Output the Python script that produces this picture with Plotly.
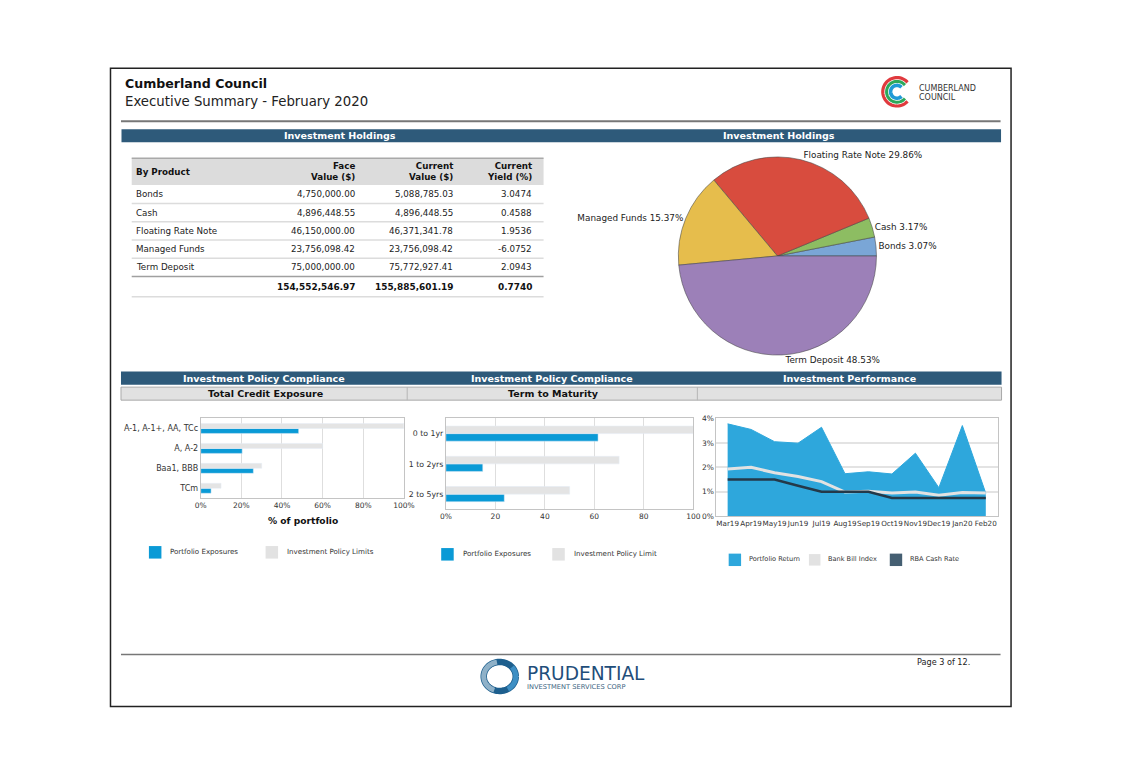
import numpy as np
import plotly.graph_objects as go

# the page body keeps its default 8px margin, so the figure is 16px smaller than the window
OFF = 8
W, H = 1121 - 2 * OFF, 774 - 2 * OFF
# measured screen mapping of this setup: screen = s*design + o  -> invert it
SX, OX = 0.984, 6.2
SY, OY = 0.987, 4.4
FS = 1.0 / 0.985  # font compensation


def X(p):
    q = (p - OX) / SX
    return (q - OFF) / W


def Y(p):
    q = (p - OY) / SY
    return 1 - (q - OFF) / H


FONT = "DejaVu Sans"

# ---------------- data ----------------
products = ["Bonds", "Cash", "Floating Rate Note", "Managed Funds", "Term Deposit"]
face_values = [4750000.00, 4896448.55, 46150000.00, 23756098.42, 75000000.00]
current_values = [5088785.03, 4896448.55, 46371341.78, 23756098.42, 75772927.41]
current_yields = [3.0474, 0.4588, 1.9536, -6.0752, 2.0943]
total_face = 154552546.97
total_current = 155885601.19
total_yield = 0.7740
table_headers = ["By Product", "Face<br>Value ($)", "Current<br>Value ($)", "Current<br>Yield (%)"]

pie_pct = [3.07, 3.17, 29.86, 15.37, 48.53]
pie_colors = ["#7aa6d6", "#8dbd62", "#d84c3e", "#e6bd4c", "#9c80b8"]

credit_cats = ["A-1, A-1+, AA, TCc", "A, A-2", "Baa1, BBB", "TCm"]
credit_exposure = [48.2, 20.4, 25.9, 5.1]
credit_limits = [100, 60, 30, 10]
credit_ticks = [0, 20, 40, 60, 80, 100]
credit_ticktext = ["0%", "20%", "40%", "60%", "80%", "100%"]

term_cats = ["0 to 1yr", "1 to 2yrs", "2 to 5yrs"]
term_exposure = [61.5, 14.9, 23.6]
term_limits = [100, 70, 50]
term_ticks = [0, 20, 40, 60, 80, 100]
term_ticktext = ["0%", "20", "40", "60", "80", "100"]

months = ["Mar19", "Apr19", "May19", "Jun19", "Jul19", "Aug19",
          "Sep19", "Oct19", "Nov19", "Dec19", "Jan20", "Feb20"]
portfolio_return = [3.78, 3.55, 3.05, 2.99, 3.64, 1.74, 1.82, 1.73, 2.58, 1.17, 3.71, 0.94]
bank_bill = [1.93, 2.00, 1.78, 1.63, 1.42, 0.99, 1.02, 0.95, 0.99, 0.86, 0.97, 0.95]
rba_cash = [1.50, 1.50, 1.50, 1.25, 1.00, 1.00, 1.00, 0.75, 0.75, 0.75, 0.75, 0.75]
perf_ticks = [0, 1, 2, 3, 4]
perf_ticktext = ["0%", "1%", "2%", "3%", "4%"]

BLUE = "#0a9ad6"
LGREY = "#e4e4e4"
NAVY = "#2e5a7a"

fig = go.Figure()

# ---------------- pie ----------------
# plotly ends the first counterclockwise slice at `rotation`; start Bonds at 3 o'clock instead
pie_rotation = 90 - 360 * pie_pct[0] / sum(pie_pct)
fig.add_trace(go.Pie(
    labels=products, values=pie_pct, sort=False, direction="counterclockwise",
    rotation=pie_rotation,
    marker=dict(colors=pie_colors, line=dict(color="rgba(70,70,70,0.55)", width=1)),
    texttemplate="%{label} %{value:.2f}%", textposition="outside",
    outsidetextfont=dict(family=FONT, size=8.7 * FS, color="#222"),
    domain=dict(x=[X(678), X(876)], y=[Y(355), Y(157)]), hoverinfo="skip",
))

# ---------------- credit exposure ----------------
fig.add_trace(go.Bar(y=credit_cats, x=credit_exposure, orientation="h", marker_color=BLUE,
                     name="Portfolio Exposures", xaxis="x", yaxis="y"))
fig.add_trace(go.Bar(y=credit_cats, x=credit_limits, orientation="h", marker_color=LGREY,
                     name="Investment Policy Limits", xaxis="x", yaxis="y"))

# ---------------- term to maturity ----------------
fig.add_trace(go.Bar(y=term_cats, x=term_exposure, orientation="h", marker_color=BLUE,
                     name="Portfolio Exposures", xaxis="x2", yaxis="y2"))
fig.add_trace(go.Bar(y=term_cats, x=term_limits, orientation="h", marker_color=LGREY,
                     name="Investment Policy Limit", xaxis="x2", yaxis="y2"))

# ---------------- performance ----------------
fig.add_trace(go.Scatter(x=months, y=portfolio_return, mode="lines", fill="tozeroy",
                         line=dict(color="#2ea7dc", width=1), fillcolor="#2ea7dc",
                         name="Portfolio Return", xaxis="x3", yaxis="y3"))
fig.add_trace(go.Scatter(x=months, y=bank_bill, mode="lines",
                         line=dict(color="#e2e2e2", width=3),
                         name="Bank Bill Index", xaxis="x3", yaxis="y3"))
fig.add_trace(go.Scatter(x=months, y=rba_cash, mode="lines",
                         line=dict(color="#243949", width=2.5),
                         name="RBA Cash Rate", xaxis="x3", yaxis="y3"))

axfont = dict(family=FONT, size=7.4 * FS, color="#333")
frame = dict(showline=True, linecolor="#c4c4c4", linewidth=1, mirror=True, zeroline=False, ticks="")

layout = dict(
    width=W, height=H, margin=dict(l=0, r=0, t=0, b=0),
    paper_bgcolor="white", plot_bgcolor="white", showlegend=False,
    font=dict(family=FONT, color="#222"),
    barmode="group", bargap=0.5, bargroupgap=0,
    xaxis=dict(domain=[X(200.7), X(403.7)], range=[0, 100], tickvals=credit_ticks,
               ticktext=credit_ticktext, showgrid=True, gridcolor="#dedede",
               tickfont=axfont, tickangle=0, anchor="y", **frame),
    yaxis=dict(domain=[Y(498), Y(418.3)], type="category", categoryorder="array",
               categoryarray=credit_cats[::-1], tickvals=credit_cats, showgrid=False,
               tickfont=dict(family=FONT, size=7.9 * FS, color="#333"), anchor="x", **frame),
    xaxis2=dict(domain=[X(445.7), X(693)], range=[0, 100], tickvals=term_ticks,
                ticktext=term_ticktext, showgrid=True, gridcolor="#dedede",
                tickfont=axfont, tickangle=0, anchor="y2", **frame),
    yaxis2=dict(domain=[Y(509), Y(418.3)], type="category", categoryorder="array",
                categoryarray=term_cats[::-1], tickvals=term_cats, showgrid=False,
                tickfont=dict(family=FONT, size=7.7 * FS, color="#333"), anchor="x2", **frame),
    xaxis3=dict(domain=[X(716), X(997)], type="category", range=[-0.48, 11.5],
                tickvals=months, ticktext=months, tickangle=0, showgrid=False,
                tickfont=dict(family=FONT, size=7.1 * FS, color="#333"), anchor="y3", **frame),
    yaxis3=dict(domain=[Y(516), Y(418.3)], range=[0, 4.0], tickvals=perf_ticks,
                ticktext=perf_ticktext, showgrid=True, gridcolor="#e3e3e3", gridwidth=1.5,
                tickfont=axfont, anchor="x3", **frame),
)
fig.update_layout(**layout)

shapes = []
ann = []


def rect(x0, y0, x1, y1, fill, line=None, lw=0, layer="below"):
    shapes.append(dict(type="rect", xref="paper", yref="paper", x0=X(x0), x1=X(x1), y0=Y(y1), y1=Y(y0),
                       fillcolor=fill, line=dict(color=line or fill, width=lw), layer=layer))


def hline(x0, x1, y, color, w):
    shapes.append(dict(type="line", xref="paper", yref="paper", x0=X(x0), x1=X(x1), y0=Y(y), y1=Y(y),
                       line=dict(color=color, width=w)))


def vline(x, y0, y1, color, w):
    shapes.append(dict(type="line", xref="paper", yref="paper", x0=X(x), x1=X(x), y0=Y(y0), y1=Y(y1),
                       line=dict(color=color, width=w)))


def text(x, y, s, size, color="#222", bold=False, xanchor="left", align="left", family=FONT):
    if bold:
        s = "<b>" + s + "</b>"
    ann.append(dict(xref="paper", yref="paper", x=X(x), y=Y(y), text=s, showarrow=False,
                    xanchor=xanchor, yanchor="middle", align=align,
                    font=dict(family=family, size=size * FS, color=color)))


# page border
shapes.append(dict(type="rect", xref="paper", yref="paper", x0=X(110.5), x1=X(1010.5), y0=Y(706), y1=Y(68.5),
                   line=dict(color="#222", width=1.5), fillcolor="rgba(0,0,0,0)", layer="below"))

# header
text(123, 84, "Cumberland Council", 12.4, "#111", bold=True)
text(123, 101.5, "Executive Summary - February 2020", 13.1, "#222")
hline(121, 1000, 121.5, "#777", 2)


# Cumberland logo
def arc_path(cx, cy, rx, ry, a0, a1, n=48):
    t = np.radians(np.linspace(a0, a1, n))
    xs = cx + rx * np.cos(t)
    ys = cy - ry * np.sin(t)
    pts = ["%.5f,%.5f" % (X(a), Y(b)) for a, b in zip(xs, ys)]
    return "M" + " L".join(pts)


for r, col, w, gap in [(14.2, "#e03a3e", 3.2, 42), (10.4, "#2da85a", 3.0, 40), (6.4, "#1e9ad6", 3.6, 45)]:
    shapes.append(dict(type="path", xref="paper", yref="paper", path=arc_path(896.5, 92, r, r, gap, 360 - gap),
                       line=dict(color=col, width=w)))
text(916.5, 88.5, "CUMBERLAND", 7.9, "#333")
text(916.5, 97.5, "COUNCIL", 7.9, "#333")

# section bars (top)
rect(121.5, 129.5, 1000.5, 142.5, NAVY)
text(340, 136, "Investment Holdings", 9.4, "white", bold=True, xanchor="center")
text(779, 136, "Investment Holdings", 9.4, "white", bold=True, xanchor="center")

# table
tx0, tx1 = 131.7, 543.3
rect(tx0, 158.5, tx1, 185, "#dcdcdc")
hline(tx0, tx1, 158.5, "#a9a9a9", 1.5)
col_right = [356.7, 455, 533.3]
text(134, 172, table_headers[0], 8.6, "#111", bold=True)
for xr, h in zip(col_right, table_headers[1:]):
    text(xr, 172, "<b>" + h.replace("<br>", "</b><br><b>") + "</b>", 8.6, "#111",
         xanchor="right", align="right")
row_y0, row_h = 194.5, 18.2
for i, p in enumerate(products):
    yy = row_y0 + i * row_h
    text(134, yy, p, 8.6)
    text(col_right[0], yy, f"{face_values[i]:,.2f}", 8.6, xanchor="right")
    text(col_right[1], yy, f"{current_values[i]:,.2f}", 8.6, xanchor="right")
    text(col_right[2], yy, f"{current_yields[i]:.4f}", 8.6, xanchor="right")
    sep = yy + 9.1
    if i < len(products) - 1:
        hline(tx0, tx1, sep, "#dcdcdc", 1.5)
    else:
        hline(tx0, tx1, sep, "#a0a0a0", 1.5)
ytot = row_y0 + len(products) * row_h + 1.2
text(col_right[0], ytot, f"{total_face:,.2f}", 8.8, "#111", bold=True, xanchor="right")
text(col_right[1], ytot, f"{total_current:,.2f}", 8.8, "#111", bold=True, xanchor="right")
text(col_right[2], ytot, f"{total_yield:.4f}", 8.8, "#111", bold=True, xanchor="right")
hline(tx0, tx1, 296.7, "#dcdcdc", 1.5)

# section bars (bottom)
rect(121, 371.5, 1001, 384.5, NAVY)
text(264, 378, "Investment Policy Compliance", 9.4, "white", bold=True, xanchor="center")
text(552, 378, "Investment Policy Compliance", 9.4, "white", bold=True, xanchor="center")
text(849, 378, "Investment Performance", 9.4, "white", bold=True, xanchor="center")
rect(121, 387, 1001, 400, "#e1e1e1", "#a9a9a9", 1)
vline(407, 387, 400, "#b5b5b5", 1)
vline(697, 387, 400, "#b5b5b5", 1)
text(265, 393.5, "Total Credit Exposure", 9.4, "#111", bold=True, xanchor="center")
text(553, 393.5, "Term to Maturity", 9.4, "#111", bold=True, xanchor="center")

text(302.5, 520.5, "% of portfolio", 9.0, "#111", bold=True, xanchor="center")


# legends (manual)
def legend_item(x, y, color, label, size=7.0, sq=12.5, gap=7):
    rect(x, y - sq / 2, x + sq, y + sq / 2, color)
    text(x + sq + gap, y - 0.5, label, size, "#333")


legend_item(148.9, 552, BLUE, "Portfolio Exposures")
legend_item(265.5, 552, "#e2e2e2", "Investment Policy Limits")
legend_item(441, 554, BLUE, "Portfolio Exposures")
legend_item(552, 554, "#e2e2e2", "Investment Policy Limit")
legend_item(728.3, 559.5, "#2ea7dc", "Portfolio Return", 6.5, 12.4, 6)
legend_item(808.5, 559.5, "#e2e2e2", "Bank Bill Index", 6.5, 11.5, 6)
legend_item(889.3, 559.5, "#455f72", "RBA Cash Rate", 6.5, 12.4, 5.5)

# footer
hline(121, 1000, 654, "#777", 1.5)
text(914.5, 662, "Page 3 of 12.", 8.0, "#222")
shapes.append(dict(type="path", xref="paper", yref="paper",
                   path=arc_path(499.5, 676, 16, 14.5, 0, 360, 72),
                   line=dict(color="#1d5f8e", width=6.5)))
shapes.append(dict(type="path", xref="paper", yref="paper",
                   path=arc_path(499.5, 676, 16, 14.5, 100, 250, 40),
                   line=dict(color="#8fb1c8", width=5)))
shapes.append(dict(type="path", xref="paper", yref="paper",
                   path=arc_path(499.5, 676, 16, 14.5, -60, 40, 30),
                   line=dict(color="#3e8fc4", width=5)))
text(524.5, 673, "PRUDENTIAL", 18.3, "#1f4e7a")
text(525, 686.5, "INVESTMENT SERVICES CORP", 6.6, "#3a5f80")

fig.update_layout(shapes=shapes, annotations=ann)

fig.write_html("out.html", include_plotlyjs=True, config={"displayModeBar": False})
